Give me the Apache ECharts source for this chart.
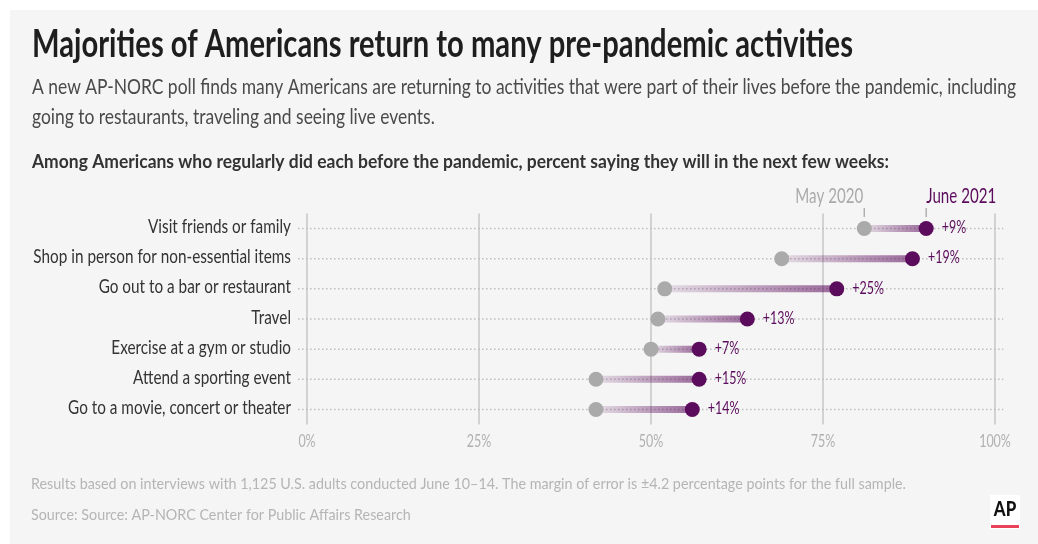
<!DOCTYPE html>
<html><head><meta charset="utf-8">
<script src="https://cdn.jsdelivr.net/npm/echarts@6/dist/echarts.min.js"></script>
<style>
html,body{margin:0;padding:0;background:#fff;}
#card{position:absolute;left:10px;top:10px;width:1028px;height:534px;background:#f5f5f5;}
#chart{position:absolute;left:0;top:0;width:1038px;height:544px;}
</style></head><body>
<div id="card"></div><div id="chart"></div>
<script>
const categories = [
  'Visit friends or family',
  'Shop in person for non-essential items',
  'Go out to a bar or restaurant',
  'Travel',
  'Exercise at a gym or studio',
  'Attend a sporting event',
  'Go to a movie, concert or theater'
];
const may2020 = [81, 69, 52, 51, 50, 42, 42];
const june2021 = [90, 88, 77, 64, 57, 57, 56];
const seriesNames = ['May 2020', 'June 2021'];
const xTicks = [0, 25, 50, 75, 100];
const xMin = 0, xMax = 100, xStep = 25;

const titleText = 'Majorities of Americans return to many pre-pandemic activities';
const subLines = [
  'A new AP-NORC poll finds many Americans are returning to activities that were part of their lives before the pandemic, including',
  'going to restaurants, traveling and seeing live events.'
];
const headingText = 'Among Americans who regularly did each before the pandemic, percent saying they will in the next few weeks:';
const footLines = [
  'Results based on interviews with 1,125 U.S. adults conducted June 10\u201314. The margin of error is \u00b14.2 percentage points for the full sample.',
  'Source: Source: AP-NORC Center for Public Affairs Research'
];

const PURPLE = '#5c0c5c';
const GRAY = '#aaaaaa';
const FONT = 'Lato';

const cv = document.createElement('canvas').getContext('2d');
function mw(font, text) { cv.font = font; return cv.measureText(text).width; }

const CAT_SIZE = 18.6, VAL_SIZE = 17.7, HEAD_SIZE = 21;
const catScale = 143 / mw('normal ' + CAT_SIZE + 'px ' + FONT, categories[0]);
const valScale = 31.7 / mw('normal ' + VAL_SIZE + 'px ' + FONT, '+13%');
const headScale = 68 / mw('normal ' + HEAD_SIZE + 'px ' + FONT, seriesNames[0]);

function stext(text, x, y, size, weight, color, target) {
  const f = weight + ' ' + size + 'px ' + FONT;
  const sx = target ? target / mw(f, text) : 1;
  return { type: 'text', x: x, y: y, scaleX: sx, scaleY: 1, silent: true,
    style: { text: text, fill: color, fontSize: size, fontFamily: FONT, fontWeight: weight,
             align: 'left', verticalAlign: 'middle' } };
}
const subScale = 984 / mw('normal 21px ' + FONT, subLines[0]);
const footScale = 875 / mw('normal 16px ' + FONT, footLines[0]);

const graphics = [
  stext(titleText, 32, 44, 39, 'bold', '#1e1e1e', 821),
  Object.assign(stext(subLines[0], 32, 87, 21, 'normal', '#4a4a4a'), { scaleX: subScale }),
  Object.assign(stext(subLines[1], 32, 117, 21, 'normal', '#4a4a4a'), { scaleX: subScale }),
  stext(headingText, 32, 162, 18, 'bold', '#333333', 857),
  Object.assign(stext(footLines[0], 31, 484, 16, 'normal', '#b5b5b5'), { scaleX: footScale }),
  Object.assign(stext(footLines[1], 31, 515, 16, 'normal', '#b5b5b5'), { scaleX: footScale }),
  { type: 'rect', shape: { x: 990, y: 495, width: 30, height: 34 }, style: { fill: '#ffffff' }, silent: true },
  { type: 'text', x: 1005, y: 509, scaleX: 0.8, silent: true,
    style: { text: 'AP', fill: '#111', fontSize: 21, fontFamily: FONT, fontWeight: 900, align: 'center', verticalAlign: 'middle' } },
  { type: 'rect', shape: { x: 991, y: 525, width: 28, height: 3 }, style: { fill: '#e8435a' }, silent: true }
];

const diffs = june2021.map((v, i) => v - may2020[i]);

function txt(text, x, y, size, color, align, sx) {
  return { type: 'text', x: x, y: y, scaleX: sx, scaleY: 1,
    style: { text: text, fill: color, fontSize: size, fontFamily: FONT, align: align, verticalAlign: 'middle' } };
}

const chart = echarts.init(document.getElementById('chart'), null, { renderer: 'canvas' });
chart.setOption({
  backgroundColor: 'transparent',
  animation: false,
  graphic: graphics,
  grid: { left: 307, right: 43, top: 213.5, height: 211 },
  xAxis: {
    type: 'value', min: xMin, max: xMax, interval: xStep,
    axisLine: { show: false }, axisTick: { show: false }, axisLabel: { show: false },
    splitLine: { show: true, lineStyle: { color: '#c6c6c6', width: 1.5 } }
  },
  yAxis: {
    type: 'category', data: categories, inverse: true,
    axisLine: { show: false }, axisTick: { show: false }, splitLine: { show: false },
    axisLabel: { show: false }
  },
  series: [
    {
      type: 'custom', z: 1, silent: true,
      data: categories.map((c, i) => [xMin, i]),
      encode: { x: 0, y: 1 },
      renderItem: function (p, api) {
        const a = api.coord([xMin - 1.3, p.dataIndex]);
        const b = api.coord([xMax + 1.2, p.dataIndex]);
        return { type: 'line', shape: { x1: a[0], y1: a[1], x2: b[0], y2: b[1] },
          style: { stroke: '#bdbdbd', lineWidth: 1.5, lineDash: [1.5, 2.5] } };
      }
    },
    {
      type: 'bar', stack: 'conn', z: 2, silent: true, barWidth: 7,
      data: may2020, itemStyle: { color: 'transparent' }
    },
    {
      type: 'bar', stack: 'conn', z: 2, silent: true, barWidth: 7,
      data: diffs,
      itemStyle: { color: new echarts.graphic.LinearGradient(0, 0, 1, 0, [
        { offset: 0, color: 'rgba(92,12,92,0.10)' },
        { offset: 1, color: 'rgba(92,12,92,0.60)' }
      ]) }
    },
    {
      name: seriesNames[0], type: 'scatter', z: 3, silent: true, symbolSize: 15,
      data: may2020.map((v, i) => [v, i]),
      itemStyle: { color: GRAY, opacity: 1 }
    },
    {
      name: seriesNames[1], type: 'scatter', z: 4, silent: true, symbolSize: 15,
      data: june2021.map((v, i) => [v, i]),
      itemStyle: { color: PURPLE, opacity: 1 }
    },
    {
      // category labels
      type: 'custom', z: 5, silent: true,
      data: categories.map((c, i) => [xMin, i]),
      encode: { x: 0, y: 1 },
      renderItem: function (p, api) {
        const pt = api.coord([xMin, p.dataIndex]);
        return txt(categories[p.dataIndex], pt[0] - 16, pt[1] - 1.5, CAT_SIZE, '#333333', 'right', catScale);
      }
    },
    {
      // change labels
      type: 'custom', z: 5, silent: true,
      data: june2021.map((v, i) => [v, i]),
      encode: { x: 0, y: 1 },
      renderItem: function (p, api) {
        const pt = api.coord([june2021[p.dataIndex], p.dataIndex]);
        return txt('+' + diffs[p.dataIndex] + '%', pt[0] + 15.5, pt[1] - 1, VAL_SIZE, PURPLE, 'left', valScale);
      }
    },
    {
      // x tick labels
      type: 'custom', z: 5, silent: true,
      data: xTicks.map(v => [v, 0]),
      encode: { x: 0, y: 1 },
      renderItem: function (p, api) {
        const pt = api.coord([xTicks[p.dataIndex], 0]);
        const yb = p.coordSys.y + p.coordSys.height + 16.5;
        return txt(xTicks[p.dataIndex] + '%', pt[0], yb, VAL_SIZE, '#b0b0b0', 'center', valScale);
      }
    },
    {
      // series header labels on the first row
      type: 'custom', z: 5, silent: true,
      data: [[may2020[0], 0], [june2021[0], 0]],
      encode: { x: 0, y: 1 },
      renderItem: function (p, api) {
        const i = p.dataIndex;
        const pt = api.coord([i === 0 ? may2020[0] : june2021[0], 0]);
        return { type: 'group', children: [
          { type: 'line', shape: { x1: pt[0], y1: pt[1] - 20.6, x2: pt[0], y2: pt[1] - 11.6 },
            style: { stroke: '#b0b0b0', lineWidth: 1.5 } },
          txt(seriesNames[i], i === 0 ? pt[0] - 1 : pt[0], pt[1] - 32.5, HEAD_SIZE,
              i === 0 ? GRAY : PURPLE, i === 0 ? 'right' : 'left', headScale)
        ] };
      }
    }
  ]
});
</script>
</body></html>
